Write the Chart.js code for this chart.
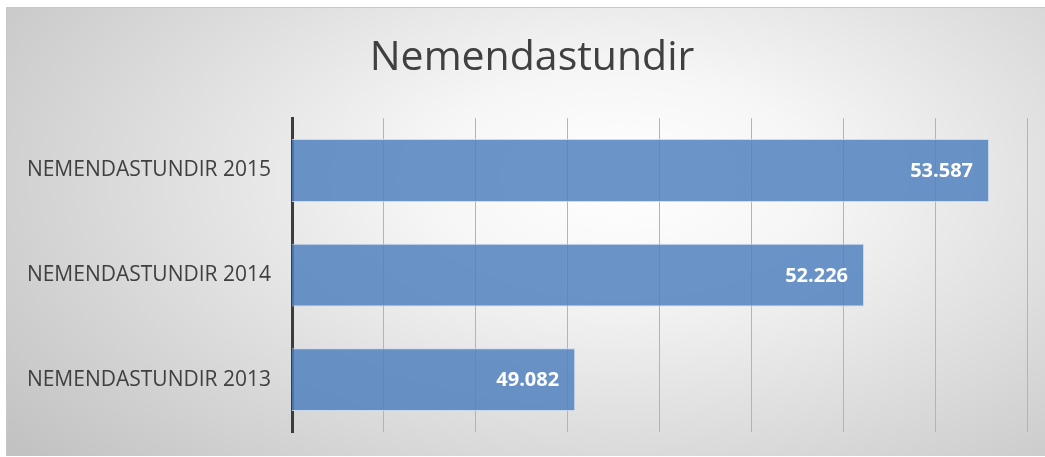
<!DOCTYPE html>
<html>
<head>
<meta charset="utf-8">
<script src="https://cdn.jsdelivr.net/npm/chart.js@4"></script>
<style>
  html, body { margin: 0; padding: 0; background: #ffffff; }
  #wrap {
    position: absolute; left: 6px; top: 7px; width: 1038px; height: 448px;
    border-top: 1px solid #c8c8c8; border-left: 1px solid #c8c8c8;
    background: radial-gradient(ellipse 75% 95% at 59% 38%, #ffffff 0%, #f6f6f6 25%, #dadada 65%, #c2c2c2 100%);
  }
  canvas { display: block; }
</style>
</head>
<body>
<div id="wrap"><canvas id="NemChart" width="1038" height="448" style="width:1038px;height:448px"></canvas></div>
<script>
(function () {
  "use strict";

  // data
  const categories = ['NEMENDASTUNDIR 2013', 'NEMENDASTUNDIR 2014', 'NEMENDASTUNDIR 2015'];
  const hours = [49082, 52226, 53587];
  const axisMin = 46000;
  const axisMax = 54000;

  const text_gray = '#404040';

  // 53587 -> "53.587"
  function fmt(v) {
    return String(v).replace(/\B(?=(\d{3})+(?!\d))/g, '.');
  }

  // value labels inside bar end
  const barLabels = {
    id: 'barLabels',
    afterDatasetsDraw(chart) {
      const ctx = chart.ctx;
      const meta = chart.getDatasetMeta(0);
      ctx.save();
      ctx.fillStyle = '#ffffff';
      ctx.font = 'bold 20px "Open Sans", sans-serif';
      ctx.textAlign = 'right';
      ctx.textBaseline = 'middle';
      meta.data.forEach(function (bar, i) {
        ctx.fillText(fmt(chart.data.datasets[0].data[i]), bar.x - 16, bar.y + 1);
      });
      ctx.restore();
    }
  };

  const cvs = document.getElementById('NemChart');

  new Chart(cvs.getContext('2d'), {
    type: 'bar',
    data: {
      labels: categories,
      datasets: [{
        label: 'Nemendastundir',
        data: hours,
        backgroundColor: 'rgba(79,129,189,0.84)',
        borderColor: 'rgba(200,215,235,0.9)',
        borderWidth: 1,
        borderSkipped: 'start',
        categoryPercentage: 1,
        barPercentage: 0.6
      }]
    },
    plugins: [barLabels],
    options: {
      responsive: false,
      animation: false,
      indexAxis: 'y',
      layout: {
        padding: { left: 30, right: 18, top: 0, bottom: 24 }
      },
      scales: {
        x: {
          min: axisMin,
          max: axisMax,
          afterFit: function (scale) { scale.height = 0; },
          ticks: { display: false, stepSize: 1000 },
          grid: { color: '#b4b4b4', lineWidth: 1, drawTicks: false },
          border: { display: false }
        },
        y: {
          reverse: true,
          afterFit: function (scale) {
            scale.width = 255;
            scale.paddingTop = 0;
            scale.paddingBottom = 0;
            // labels are wider than the axis box, don't clip them
            scale._computeLabelArea = function () { return undefined; };
          },
          ticks: {
            color: text_gray,
            padding: 21,
            font: { family: '"Open Sans", sans-serif', size: 21 }
          },
          grid: { display: false, drawTicks: false },
          border: { display: true, color: '#3c3c3c', width: 3 }
        }
      },
      plugins: {
        legend: { display: false },
        tooltip: { enabled: false },
        title: {
          display: true,
          text: 'Nemendastundir',
          color: text_gray,
          font: { family: '"Open Sans", sans-serif', size: 41, weight: 'normal' },
          padding: { top: 26, bottom: 35 }
        }
      }
    }
  });
})();
</script>
</body>
</html>
